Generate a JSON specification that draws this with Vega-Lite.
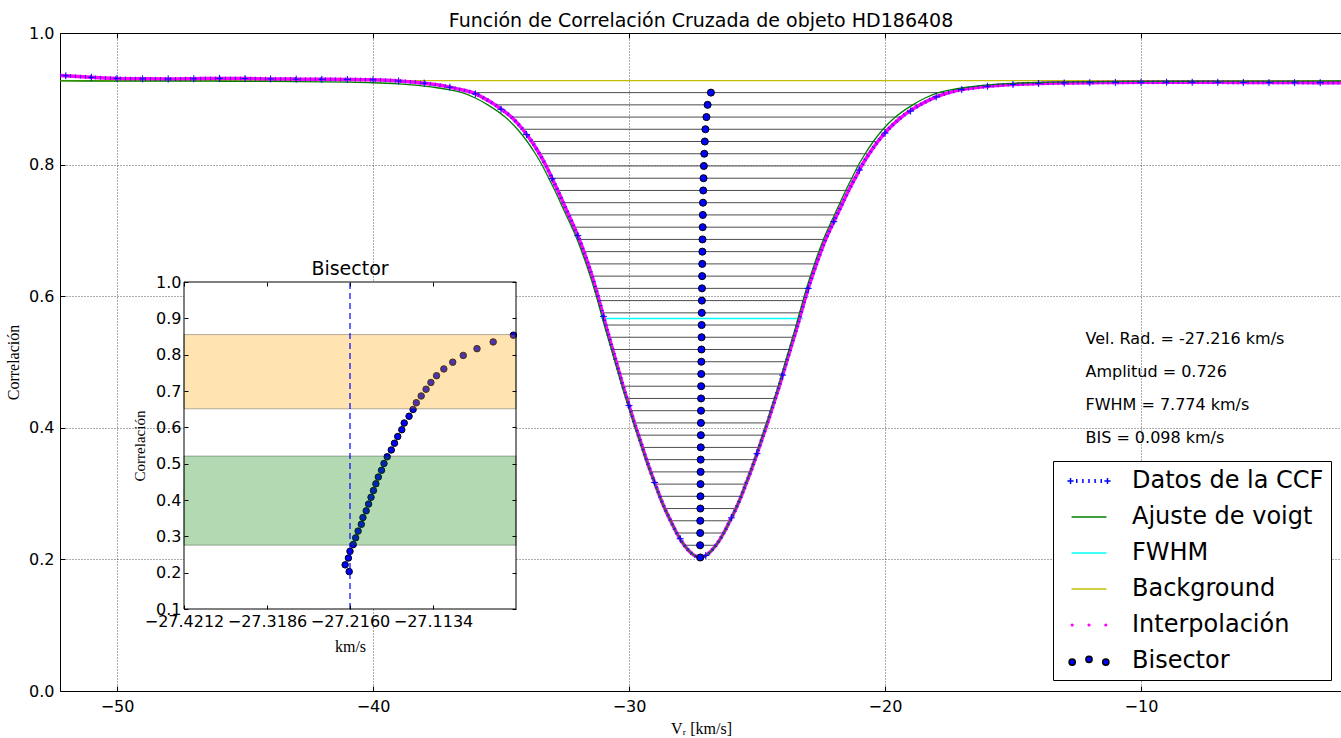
{
"$schema": "https://vega.github.io/schema/vega-lite/v6.json",
"width": 1282,
"height": 658,
"autosize": {"type": "none"},
"padding": {"left": 60, "top": 33, "right": 0, "bottom": 47},
"background": "white",
"config": {
  "view": {"stroke": "black", "strokeWidth": 1, "fill": "white"},
  "axis": {"labelFont": "DejaVu Sans", "labelColor": "black", "tickColor": "black", "titleColor": "black", "titleFontWeight": "normal", "labelFontSize": 16, "minExtent": 0},
  "legend": {"orient": "bottom-right", "offset": 11, "labelFont": "DejaVu Sans", "labelFontSize": 24, "labelColor": "black", "labelLimit": 0, "symbolSize": 576, "symbolStrokeWidth": 1.5, "symbolOpacity": 1, "padding": 7, "symbolOffset": 16, "labelOffset": 30, "rowPadding": 11, "strokeColor": "black", "fillColor": "white", "cornerRadius": 0, "zindex": 1}
},
"datasets": {
  "niveles": [
    {"y":0.2029,"bis":-27.217,"xl":-27.217,"xr":-27.217},
    {"y":0.2215,"bis":-27.222,"xl":-27.842,"xr":-26.602},
    {"y":0.2401,"bis":-27.218,"xl":-28.138,"xr":-26.298},
    {"y":0.2587,"bis":-27.216,"xl":-28.376,"xr":-26.056},
    {"y":0.2773,"bis":-27.212,"xl":-28.602,"xr":-25.822},
    {"y":0.2959,"bis":-27.209,"xl":-28.799,"xr":-25.619},
    {"y":0.3144,"bis":-27.206,"xl":-28.976,"xr":-25.436},
    {"y":0.333,"bis":-27.202,"xl":-29.152,"xr":-25.252},
    {"y":0.3516,"bis":-27.2,"xl":-29.32,"xr":-25.08},
    {"y":0.3702,"bis":-27.196,"xl":-29.476,"xr":-24.916},
    {"y":0.3888,"bis":-27.193,"xl":-29.633,"xr":-24.753},
    {"y":0.4074,"bis":-27.19,"xl":-29.79,"xr":-24.59},
    {"y":0.426,"bis":-27.187,"xl":-29.937,"xr":-24.437},
    {"y":0.4446,"bis":-27.184,"xl":-30.084,"xr":-24.284},
    {"y":0.4632,"bis":-27.181,"xl":-30.231,"xr":-24.131},
    {"y":0.4818,"bis":-27.177,"xl":-30.367,"xr":-23.987},
    {"y":0.5004,"bis":-27.174,"xl":-30.504,"xr":-23.844},
    {"y":0.519,"bis":-27.17,"xl":-30.64,"xr":-23.7},
    {"y":0.5376,"bis":-27.165,"xl":-30.775,"xr":-23.555},
    {"y":0.5562,"bis":-27.161,"xl":-30.911,"xr":-23.411},
    {"y":0.5747,"bis":-27.157,"xl":-31.037,"xr":-23.277},
    {"y":0.5933,"bis":-27.152,"xl":-31.162,"xr":-23.142},
    {"y":0.6119,"bis":-27.149,"xl":-31.299,"xr":-22.999},
    {"y":0.6305,"bis":-27.143,"xl":-31.443,"xr":-22.843},
    {"y":0.6491,"bis":-27.138,"xl":-31.598,"xr":-22.678},
    {"y":0.6677,"bis":-27.134,"xl":-31.764,"xr":-22.504},
    {"y":0.6863,"bis":-27.128,"xl":-31.938,"xr":-22.318},
    {"y":0.7049,"bis":-27.122,"xl":-32.142,"xr":-22.102},
    {"y":0.7235,"bis":-27.116,"xl":-32.356,"xr":-21.876},
    {"y":0.7421,"bis":-27.109,"xl":-32.569,"xr":-21.649},
    {"y":0.7607,"bis":-27.1,"xl":-32.78,"xr":-21.42},
    {"y":0.7793,"bis":-27.089,"xl":-33.009,"xr":-21.169},
    {"y":0.7979,"bis":-27.076,"xl":-33.236,"xr":-20.916},
    {"y":0.8165,"bis":-27.059,"xl":-33.499,"xr":-20.619},
    {"y":0.8351,"bis":-27.039,"xl":-33.799,"xr":-20.279},
    {"y":0.8537,"bis":-27.014,"xl":-34.154,"xr":-19.874},
    {"y":0.8722,"bis":-26.975,"xl":-34.595,"xr":-19.355},
    {"y":0.8908,"bis":-26.93,"xl":-35.23,"xr":-18.63},
    {"y":0.9094,"bis":-26.8,"xl":-36.1,"xr":-17.5}
  ],
  "ccf": [
    {"x":-52.227,"y":0.9356},{"x":-51.5,"y":0.9338},{"x":-51,"y":0.9327},{"x":-50.5,"y":0.9317},{"x":-50,"y":0.931},
    {"x":-49,"y":0.9303},{"x":-48,"y":0.9301},{"x":-47,"y":0.9305},{"x":-46,"y":0.931},{"x":-45,"y":0.9307},
    {"x":-44,"y":0.9302},{"x":-43,"y":0.9299},{"x":-42,"y":0.9297},{"x":-41,"y":0.9294},{"x":-40,"y":0.9288},
    {"x":-39.5,"y":0.9281},{"x":-39,"y":0.927},{"x":-38.5,"y":0.9256},{"x":-38,"y":0.9238},{"x":-37.5,"y":0.9212},
    {"x":-37,"y":0.9177},{"x":-36.5,"y":0.9133},{"x":-36.1,"y":0.9094},{"x":-35.7,"y":0.9018},
    {"x":-35.23,"y":0.8908},{"x":-34.595,"y":0.8722},{"x":-34.154,"y":0.8537},{"x":-33.799,"y":0.8351},{"x":-33.499,"y":0.8165},
    {"x":-33.236,"y":0.7979},{"x":-33.009,"y":0.7793},{"x":-32.78,"y":0.7607},{"x":-32.569,"y":0.7421},{"x":-32.356,"y":0.7235},
    {"x":-32.142,"y":0.7049},{"x":-31.938,"y":0.6863},{"x":-31.764,"y":0.6677},{"x":-31.598,"y":0.6491},{"x":-31.443,"y":0.6305},
    {"x":-31.299,"y":0.6119},{"x":-31.162,"y":0.5933},{"x":-31.037,"y":0.5747},{"x":-30.911,"y":0.5562},{"x":-30.775,"y":0.5376},
    {"x":-30.64,"y":0.519},{"x":-30.504,"y":0.5004},{"x":-30.367,"y":0.4818},{"x":-30.231,"y":0.4632},{"x":-30.084,"y":0.4446},
    {"x":-29.937,"y":0.426},{"x":-29.79,"y":0.4074},{"x":-29.633,"y":0.3888},{"x":-29.476,"y":0.3702},{"x":-29.32,"y":0.3516},
    {"x":-29.152,"y":0.333},{"x":-28.976,"y":0.3144},{"x":-28.799,"y":0.2959},{"x":-28.602,"y":0.2773},{"x":-28.376,"y":0.2587},
    {"x":-28.138,"y":0.2401},{"x":-27.842,"y":0.2215},{"x":-27.217,"y":0.2029},
    {"x":-26.602,"y":0.2215},{"x":-26.298,"y":0.2401},{"x":-26.056,"y":0.2587},{"x":-25.822,"y":0.2773},{"x":-25.619,"y":0.2959},
    {"x":-25.436,"y":0.3144},{"x":-25.252,"y":0.333},{"x":-25.08,"y":0.3516},{"x":-24.916,"y":0.3702},{"x":-24.753,"y":0.3888},
    {"x":-24.59,"y":0.4074},{"x":-24.437,"y":0.426},{"x":-24.284,"y":0.4446},{"x":-24.131,"y":0.4632},{"x":-23.987,"y":0.4818},
    {"x":-23.844,"y":0.5004},{"x":-23.7,"y":0.519},{"x":-23.555,"y":0.5376},{"x":-23.411,"y":0.5562},{"x":-23.277,"y":0.5747},
    {"x":-23.142,"y":0.5933},{"x":-22.999,"y":0.6119},{"x":-22.843,"y":0.6305},{"x":-22.678,"y":0.6491},{"x":-22.504,"y":0.6677},
    {"x":-22.318,"y":0.6863},{"x":-22.102,"y":0.7049},{"x":-21.876,"y":0.7235},{"x":-21.649,"y":0.7421},{"x":-21.42,"y":0.7607},
    {"x":-21.169,"y":0.7793},{"x":-20.916,"y":0.7979},{"x":-20.619,"y":0.8165},{"x":-20.279,"y":0.8351},{"x":-19.874,"y":0.8537},
    {"x":-19.355,"y":0.8722},{"x":-18.63,"y":0.8908},{"x":-18,"y":0.903},{"x":-17.5,"y":0.9094},
    {"x":-17,"y":0.914},{"x":-16.5,"y":0.9168},{"x":-16,"y":0.919},{"x":-15.5,"y":0.9206},{"x":-15,"y":0.9218},
    {"x":-14.5,"y":0.9226},{"x":-14,"y":0.9233},{"x":-13,"y":0.924},{"x":-12,"y":0.9245},{"x":-11,"y":0.9249},
    {"x":-10,"y":0.9251},{"x":-9,"y":0.9252},{"x":-8,"y":0.9252},{"x":-7,"y":0.925},{"x":-6,"y":0.9249},
    {"x":-5,"y":0.9247},{"x":-4,"y":0.9246},{"x":-3,"y":0.9245},{"x":-2.148,"y":0.9245}
  ],
  "ccfp": [
    {"x":-52,"y":0.935},{"x":-51,"y":0.9327},{"x":-50,"y":0.931},{"x":-49,"y":0.9303},{"x":-48,"y":0.9301},
    {"x":-47,"y":0.9305},{"x":-46,"y":0.931},{"x":-45,"y":0.9307},{"x":-44,"y":0.9302},{"x":-43,"y":0.9299},
    {"x":-42,"y":0.9297},{"x":-41,"y":0.9294},{"x":-40,"y":0.9288},{"x":-39,"y":0.927},{"x":-38,"y":0.9238},
    {"x":-37,"y":0.9177},{"x":-36,"y":0.9074},{"x":-35,"y":0.8841},{"x":-34,"y":0.8456},{"x":-33,"y":0.7786},
    {"x":-32,"y":0.692},{"x":-31,"y":0.5693},{"x":-30,"y":0.434},{"x":-29,"y":0.3169},{"x":-28,"y":0.2314},
    {"x":-27,"y":0.206},{"x":-26,"y":0.2632},{"x":-25,"y":0.3607},{"x":-24,"y":0.4801},{"x":-23,"y":0.6118},
    {"x":-22,"y":0.7133},{"x":-21,"y":0.7917},{"x":-20,"y":0.8479},{"x":-19,"y":0.8813},{"x":-18,"y":0.903},
    {"x":-17,"y":0.914},{"x":-16,"y":0.919},{"x":-15,"y":0.9218},{"x":-14,"y":0.9233},{"x":-13,"y":0.924},
    {"x":-12,"y":0.9245},{"x":-11,"y":0.9249},{"x":-10,"y":0.9251},{"x":-9,"y":0.9252},{"x":-8,"y":0.9252},
    {"x":-7,"y":0.925},{"x":-6,"y":0.9249},{"x":-5,"y":0.9247},{"x":-4,"y":0.9246},{"x":-3,"y":0.9245}
  ],
  "voigt": [
    {"x":-52.227,"y":0.9271},{"x":-50,"y":0.927},{"x":-48,"y":0.9269},{"x":-46,"y":0.9267},{"x":-44,"y":0.9264},
    {"x":-42,"y":0.9258},{"x":-41,"y":0.9253},{"x":-40,"y":0.9244},{"x":-39,"y":0.9226},{"x":-38.5,"y":0.9212},
    {"x":-38,"y":0.9193},{"x":-37.5,"y":0.9168},{"x":-37,"y":0.9135},{"x":-36.516,"y":0.9094},{"x":-36,"y":0.9012},
    {"x":-35.516,"y":0.8908},{"x":-34.836,"y":0.8722},{"x":-34.356,"y":0.8537},{"x":-33.976,"y":0.8351},{"x":-33.656,"y":0.8165},
    {"x":-33.376,"y":0.7979},{"x":-33.136,"y":0.7793},{"x":-32.896,"y":0.7607},{"x":-32.676,"y":0.7421},{"x":-32.456,"y":0.7235},
    {"x":-32.236,"y":0.7049},{"x":-32.026,"y":0.6863},{"x":-31.846,"y":0.6677},{"x":-31.676,"y":0.6491},{"x":-31.516,"y":0.6305},
    {"x":-31.366,"y":0.6119},{"x":-31.226,"y":0.5933},{"x":-31.096,"y":0.5747},{"x":-30.966,"y":0.5562},{"x":-30.826,"y":0.5376},
    {"x":-30.686,"y":0.519},{"x":-30.546,"y":0.5004},{"x":-30.406,"y":0.4818},{"x":-30.266,"y":0.4632},{"x":-30.116,"y":0.4446},
    {"x":-29.966,"y":0.426},{"x":-29.816,"y":0.4074},{"x":-29.656,"y":0.3888},{"x":-29.496,"y":0.3702},{"x":-29.336,"y":0.3516},
    {"x":-29.166,"y":0.333},{"x":-28.986,"y":0.3144},{"x":-28.806,"y":0.2959},{"x":-28.606,"y":0.2773},{"x":-28.376,"y":0.2587},
    {"x":-28.136,"y":0.2401},{"x":-27.836,"y":0.2215},{"x":-27.216,"y":0.2022},
    {"x":-26.596,"y":0.2215},{"x":-26.296,"y":0.2401},{"x":-26.056,"y":0.2587},{"x":-25.826,"y":0.2773},{"x":-25.626,"y":0.2959},
    {"x":-25.446,"y":0.3144},{"x":-25.266,"y":0.333},{"x":-25.096,"y":0.3516},{"x":-24.936,"y":0.3702},{"x":-24.776,"y":0.3888},
    {"x":-24.616,"y":0.4074},{"x":-24.466,"y":0.426},{"x":-24.316,"y":0.4446},{"x":-24.166,"y":0.4632},{"x":-24.026,"y":0.4818},
    {"x":-23.886,"y":0.5004},{"x":-23.746,"y":0.519},{"x":-23.606,"y":0.5376},{"x":-23.466,"y":0.5562},{"x":-23.336,"y":0.5747},
    {"x":-23.206,"y":0.5933},{"x":-23.066,"y":0.6119},{"x":-22.916,"y":0.6305},{"x":-22.756,"y":0.6491},{"x":-22.586,"y":0.6677},
    {"x":-22.406,"y":0.6863},{"x":-22.196,"y":0.7049},{"x":-21.976,"y":0.7235},{"x":-21.756,"y":0.7421},{"x":-21.536,"y":0.7607},
    {"x":-21.296,"y":0.7793},{"x":-21.056,"y":0.7979},{"x":-20.776,"y":0.8165},{"x":-20.456,"y":0.8351},{"x":-20.076,"y":0.8537},
    {"x":-19.596,"y":0.8722},{"x":-18.916,"y":0.8908},{"x":-18.432,"y":0.9012},{"x":-17.916,"y":0.9094},{"x":-17.432,"y":0.9135},
    {"x":-16.932,"y":0.9168},{"x":-16.432,"y":0.9193},{"x":-15.932,"y":0.9212},{"x":-15.432,"y":0.9226},{"x":-14.432,"y":0.9244},
    {"x":-13.432,"y":0.9253},{"x":-12.432,"y":0.9258},{"x":-10.432,"y":0.9264},{"x":-8.432,"y":0.9267},{"x":-6.432,"y":0.9269},
    {"x":-4.432,"y":0.927},{"x":-2.148,"y":0.9271}
  ],
  "notas": [
    {"x":-12.17,"y":0.527,"texto":"Vel. Rad. = -27.216 km/s"},
    {"x":-12.17,"y":0.477,"texto":"Amplitud = 0.726"},
    {"x":-12.17,"y":0.427,"texto":"FWHM = 7.774 km/s"},
    {"x":-12.17,"y":0.377,"texto":"BIS = 0.098 km/s"}
  ],
  "leyenda": [
    {"serie":"Datos de la CCF"},{"serie":"Ajuste de voigt"},{"serie":"FWHM"},
    {"serie":"Background"},{"serie":"Interpolación"},{"serie":"Bisector"}
  ]
},
"layer": [
  {"layer": [
    {"data": {"values": [{"fondo": 0.9276}]},
     "mark": {"type": "rule", "color": "#bfbf00", "strokeWidth": 1.4},
     "encoding": {"y": {"field": "fondo", "type": "quantitative", "scale": {"domain": [0, 1], "nice": false, "zero": false}}}},
    {"data": {"name": "niveles"},
     "mark": {"type": "rule", "color": "#4d4d4d", "strokeWidth": 1},
     "encoding": {
       "x": {"field": "xl", "type": "quantitative", "scale": {"domain": [-52.227, -2.148], "nice": false, "zero": false},
         "axis": {"orient": "bottom", "title": "Vᵣ [km/s]", "values": [-50, -40, -30, -20, -10], "format": "d", "grid": true, "gridColor": "#000000", "gridDash": [1, 2], "gridOpacity": 0.65, "gridWidth": 1, "tickSize": -5, "labelPadding": 12, "labelFontSize": 16, "domain": false, "titlePadding": 6, "titleFontSize": 16, "titleFont": "Liberation Serif", "zindex": 0, "labelFlush": false, "labelOverlap": false}},
       "x2": {"field": "xr"},
       "y": {"field": "y", "type": "quantitative", "scale": {"domain": [0, 1], "nice": false, "zero": false},
         "axis": {"orient": "left", "title": "Correlación", "values": [0, 0.2, 0.4, 0.6, 0.8, 1.0], "format": ".1f", "grid": true, "gridColor": "#000000", "gridDash": [1, 2], "gridOpacity": 0.65, "gridWidth": 1, "tickSize": -5, "labelPadding": 11, "labelFontSize": 16, "domain": false, "titlePadding": 7, "titleFontSize": 16, "titleFont": "Liberation Serif", "zindex": 0, "labelFlush": false, "labelOverlap": false}}}},
    {"data": {"values": [{"desde": -31.08, "hasta": -23.2, "nivel": 0.566}]},
     "mark": {"type": "rule", "color": "#00ffff", "strokeWidth": 1.4},
     "encoding": {
       "x": {"field": "desde", "type": "quantitative", "scale": {"domain": [-52.227, -2.148], "nice": false, "zero": false}, "axis": null},
       "x2": {"field": "hasta"},
       "y": {"field": "nivel", "type": "quantitative", "scale": {"domain": [0, 1], "nice": false, "zero": false}}}},
    {"data": {"name": "ccf"},
     "mark": {"type": "line", "color": "#ff00ff", "strokeWidth": 3.5, "interpolate": "monotone", "clip": true},
     "encoding": {
       "x": {"field": "x", "type": "quantitative", "scale": {"domain": [-52.227, -2.148], "nice": false, "zero": false}, "axis": null},
       "y": {"field": "y", "type": "quantitative", "scale": {"domain": [0, 1], "nice": false, "zero": false}}}},
    {"data": {"name": "voigt"},
     "mark": {"type": "line", "color": "#008000", "strokeWidth": 1.3, "interpolate": "monotone", "clip": true},
     "encoding": {
       "x": {"field": "x", "type": "quantitative", "scale": {"domain": [-52.227, -2.148], "nice": false, "zero": false}, "axis": null},
       "y": {"field": "y", "type": "quantitative", "scale": {"domain": [0, 1], "nice": false, "zero": false}}}},
    {"data": {"name": "ccf"},
     "mark": {"type": "line", "color": "#0000ff", "strokeWidth": 4, "strokeDash": [1, 4], "opacity": 0.75, "interpolate": "monotone", "clip": true},
     "encoding": {
       "x": {"field": "x", "type": "quantitative", "scale": {"domain": [-52.227, -2.148], "nice": false, "zero": false}, "axis": null},
       "y": {"field": "y", "type": "quantitative", "scale": {"domain": [0, 1], "nice": false, "zero": false}}}},
    {"data": {"name": "ccfp"},
     "mark": {"type": "point", "shape": "M-1,0H1M0,-1V1", "size": 49, "filled": false, "color": "#0000ff", "strokeWidth": 1, "opacity": 1, "clip": true},
     "encoding": {
       "x": {"field": "x", "type": "quantitative", "scale": {"domain": [-52.227, -2.148], "nice": false, "zero": false}, "axis": null},
       "y": {"field": "y", "type": "quantitative", "scale": {"domain": [0, 1], "nice": false, "zero": false}}}},
    {"data": {"name": "niveles"},
     "mark": {"type": "point", "shape": "circle", "size": 50, "filled": true, "fill": "#0000ff", "stroke": "#000000", "strokeWidth": 1, "opacity": 1},
     "encoding": {
       "x": {"field": "bis", "type": "quantitative", "scale": {"domain": [-52.227, -2.148], "nice": false, "zero": false}, "axis": null},
       "y": {"field": "y", "type": "quantitative", "scale": {"domain": [0, 1], "nice": false, "zero": false}}}},
    {"data": {"name": "leyenda"},
     "mark": {"type": "point", "opacity": 0, "filled": true},
     "encoding": {
       "fill": {"field": "serie", "type": "nominal", "legend": {"title": null},
         "scale": {"domain": ["Datos de la CCF", "Ajuste de voigt", "FWHM", "Background", "Interpolación", "Bisector"],
                   "range": ["#0000ff", "#008000", "#00ffff", "#bfbf00", "#ff00ff", "#0000ff"]}},
       "stroke": {"field": "serie", "type": "nominal", "legend": {"title": null},
         "scale": {"domain": ["Datos de la CCF", "Ajuste de voigt", "FWHM", "Background", "Interpolación", "Bisector"],
                   "range": ["#0000ff", "#008000", "#00ffff", "#bfbf00", "#ff00ff", "#000000"]}},
       "shape": {"field": "serie", "type": "nominal", "legend": {"title": null},
         "scale": {"domain": ["Datos de la CCF", "Ajuste de voigt", "FWHM", "Background", "Interpolación", "Bisector"],
                   "range": [
                     "M-1.8,0H-1.28M-1.54,-0.26V0.26M1.28,0H1.8M1.54,-0.26V0.26M-1.02,-0.16V0.16M-0.51,-0.16V0.16M0,-0.16V0.16M0.51,-0.16V0.16M1.02,-0.16V0.16",
                     "M-1.45,0H1.45",
                     "M-1.45,0H1.45",
                     "M-1.45,0H1.45",
                     "M-1.47,0a0.07,0.07 0 1,0 0.14,0a0.07,0.07 0 1,0 -0.14,0M-0.07,0a0.07,0.07 0 1,0 0.14,0a0.07,0.07 0 1,0 -0.14,0M1.33,0a0.07,0.07 0 1,0 0.14,0a0.07,0.07 0 1,0 -0.14,0",
                     "M-1.66,0.09a0.26,0.26 0 1,0 0.52,0a0.26,0.26 0 1,0 -0.52,0M-0.26,-0.14a0.26,0.26 0 1,0 0.52,0a0.26,0.26 0 1,0 -0.52,0M1.14,0.09a0.26,0.26 0 1,0 0.52,0a0.26,0.26 0 1,0 -0.52,0"
                   ]}}}},
    {"data": {"values": [{"titulo": "Función de Correlación Cruzada de objeto HD186408"}]},
     "mark": {"type": "text", "font": "DejaVu Sans", "fontSize": 19, "color": "black", "align": "center", "baseline": "alphabetic", "dy": -6},
     "encoding": {
       "x": {"datum": -27.188, "type": "quantitative", "scale": {"domain": [-52.227, -2.148], "nice": false, "zero": false}, "axis": null},
       "y": {"datum": 1.0, "type": "quantitative", "scale": {"domain": [0, 1], "nice": false, "zero": false}},
       "text": {"field": "titulo"}}},
    {"data": {"name": "notas"},
     "mark": {"type": "text", "align": "left", "baseline": "alphabetic", "font": "DejaVu Sans", "fontSize": 16, "color": "black"},
     "encoding": {
       "x": {"field": "x", "type": "quantitative", "scale": {"domain": [-52.227, -2.148], "nice": false, "zero": false},
         "axis": {"orient": "top", "values": [-50, -40, -30, -20, -10], "labels": false, "tickSize": -5, "domain": false, "grid": false, "title": null, "minExtent": 0, "maxExtent": 0}},
       "y": {"field": "y", "type": "quantitative", "scale": {"domain": [0, 1], "nice": false, "zero": false}},
       "text": {"field": "texto"}}}
  ]},
  {"layer": [
    {"data": {"values": [{}]},
     "mark": {"type": "rect", "fill": "white"},
     "encoding": {
       "x": {"datum": -27.4212, "type": "quantitative", "scale": {"domain": [-27.4212, -27.0108], "range": [124, 456], "nice": false, "zero": false},
         "axis": {"orient": "bottom", "offset": -82, "values": [-27.4212, -27.3186, -27.216, -27.1134], "format": ".4f", "title": "km/s", "titleFont": "Liberation Serif", "titleFontSize": 16, "titlePadding": 9, "labelFontSize": 16, "labelPadding": 8, "tickSize": -4, "domain": false, "grid": false, "labelFlush": false, "labelOverlap": false, "labelBound": false, "zindex": 1}},
       "x2": {"datum": -27.0108},
       "y": {"datum": 0.1, "type": "quantitative", "scale": {"domain": [0.1, 1.0], "range": [576, 249], "nice": false, "zero": false},
         "axis": {"orient": "left", "offset": -124, "values": [0.1, 0.2, 0.3, 0.4, 0.5, 0.6, 0.7, 0.8, 0.9, 1.0], "format": ".1f", "title": "Correlación", "titleFont": "Liberation Serif", "titleFontSize": 15, "titlePadding": 8, "labelFontSize": 16, "labelPadding": 7, "tickSize": -4, "domain": false, "grid": false, "labelFlush": false, "labelOverlap": false, "zindex": 1}},
       "y2": {"datum": 1.0}}},
    {"data": {"name": "niveles"},
     "transform": [{"filter": "datum.bis < -27.01"}],
     "mark": {"type": "point", "shape": "circle", "size": 42, "filled": true, "fill": "#0000ff", "stroke": "#000000", "strokeWidth": 1, "opacity": 1},
     "encoding": {
       "x": {"field": "bis", "type": "quantitative", "scale": {"domain": [-27.4212, -27.0108], "range": [124, 456], "nice": false, "zero": false}, "axis": null},
       "y": {"field": "y", "type": "quantitative", "scale": {"domain": [0.1, 1.0], "range": [576, 249], "nice": false, "zero": false}, "axis": null}}},
    {"data": {"values": [{"lo": 0.2758, "hi": 0.521}]},
     "mark": {"type": "rect", "fill": "#008000", "fillOpacity": 0.3, "stroke": "#000000", "strokeOpacity": 0.3, "strokeWidth": 1},
     "encoding": {
       "x": {"datum": -27.4212, "type": "quantitative", "scale": {"domain": [-27.4212, -27.0108], "range": [124, 456], "nice": false, "zero": false}, "axis": null},
       "x2": {"datum": -27.0108},
       "y": {"field": "lo", "type": "quantitative", "scale": {"domain": [0.1, 1.0], "range": [576, 249], "nice": false, "zero": false}, "axis": null},
       "y2": {"field": "hi"}}},
    {"data": {"values": [{"lo": 0.651, "hi": 0.8553}]},
     "mark": {"type": "rect", "fill": "#ffa500", "fillOpacity": 0.3, "stroke": "#000000", "strokeOpacity": 0.3, "strokeWidth": 1},
     "encoding": {
       "x": {"datum": -27.4212, "type": "quantitative", "scale": {"domain": [-27.4212, -27.0108], "range": [124, 456], "nice": false, "zero": false}, "axis": null},
       "x2": {"datum": -27.0108},
       "y": {"field": "lo", "type": "quantitative", "scale": {"domain": [0.1, 1.0], "range": [576, 249], "nice": false, "zero": false}, "axis": null},
       "y2": {"field": "hi"}}},
    {"data": {"values": [{"vr": -27.216}]},
     "mark": {"type": "rule", "color": "#0000ff", "strokeWidth": 1.2, "strokeDash": [6, 4]},
     "encoding": {
       "x": {"field": "vr", "type": "quantitative", "scale": {"domain": [-27.4212, -27.0108], "range": [124, 456], "nice": false, "zero": false}, "axis": null},
       "y": {"datum": 0.1, "type": "quantitative", "scale": {"domain": [0.1, 1.0], "range": [576, 249], "nice": false, "zero": false}, "axis": null},
       "y2": {"datum": 1.0}}},
    {"data": {"values": [{"titulo": "Bisector"}]},
     "mark": {"type": "text", "font": "DejaVu Sans", "fontSize": 19, "color": "black", "align": "center", "baseline": "alphabetic", "dy": -7},
     "encoding": {
       "x": {"datum": -27.216, "type": "quantitative", "scale": {"domain": [-27.4212, -27.0108], "range": [124, 456], "nice": false, "zero": false}, "axis": null},
       "y": {"datum": 1.0, "type": "quantitative", "scale": {"domain": [0.1, 1.0], "range": [576, 249], "nice": false, "zero": false}, "axis": null},
       "text": {"field": "titulo"}}},
    {"data": {"values": [{}]},
     "mark": {"type": "rect", "filled": false, "color": "#000000", "strokeWidth": 1},
     "encoding": {
       "x": {"datum": -27.4212, "type": "quantitative", "scale": {"domain": [-27.4212, -27.0108], "range": [124, 456], "nice": false, "zero": false},
         "axis": {"orient": "top", "offset": -249, "values": [-27.4212, -27.3186, -27.216, -27.1134], "labels": false, "tickSize": -4, "domain": false, "grid": false, "title": null, "zindex": 1, "maxExtent": 0}},
       "x2": {"datum": -27.0108},
       "y": {"datum": 0.1, "type": "quantitative", "scale": {"domain": [0.1, 1.0], "range": [576, 249], "nice": false, "zero": false},
         "axis": {"orient": "right", "offset": -826, "values": [0.1, 0.2, 0.3, 0.4, 0.5, 0.6, 0.7, 0.8, 0.9, 1.0], "labels": false, "tickSize": -4, "domain": false, "grid": false, "title": null, "zindex": 1, "maxExtent": 0}},
       "y2": {"datum": 1.0}}}
  ]}
],
"resolve": {"scale": {"x": "independent", "y": "independent"}, "axis": {"x": "independent", "y": "independent"}}
}
